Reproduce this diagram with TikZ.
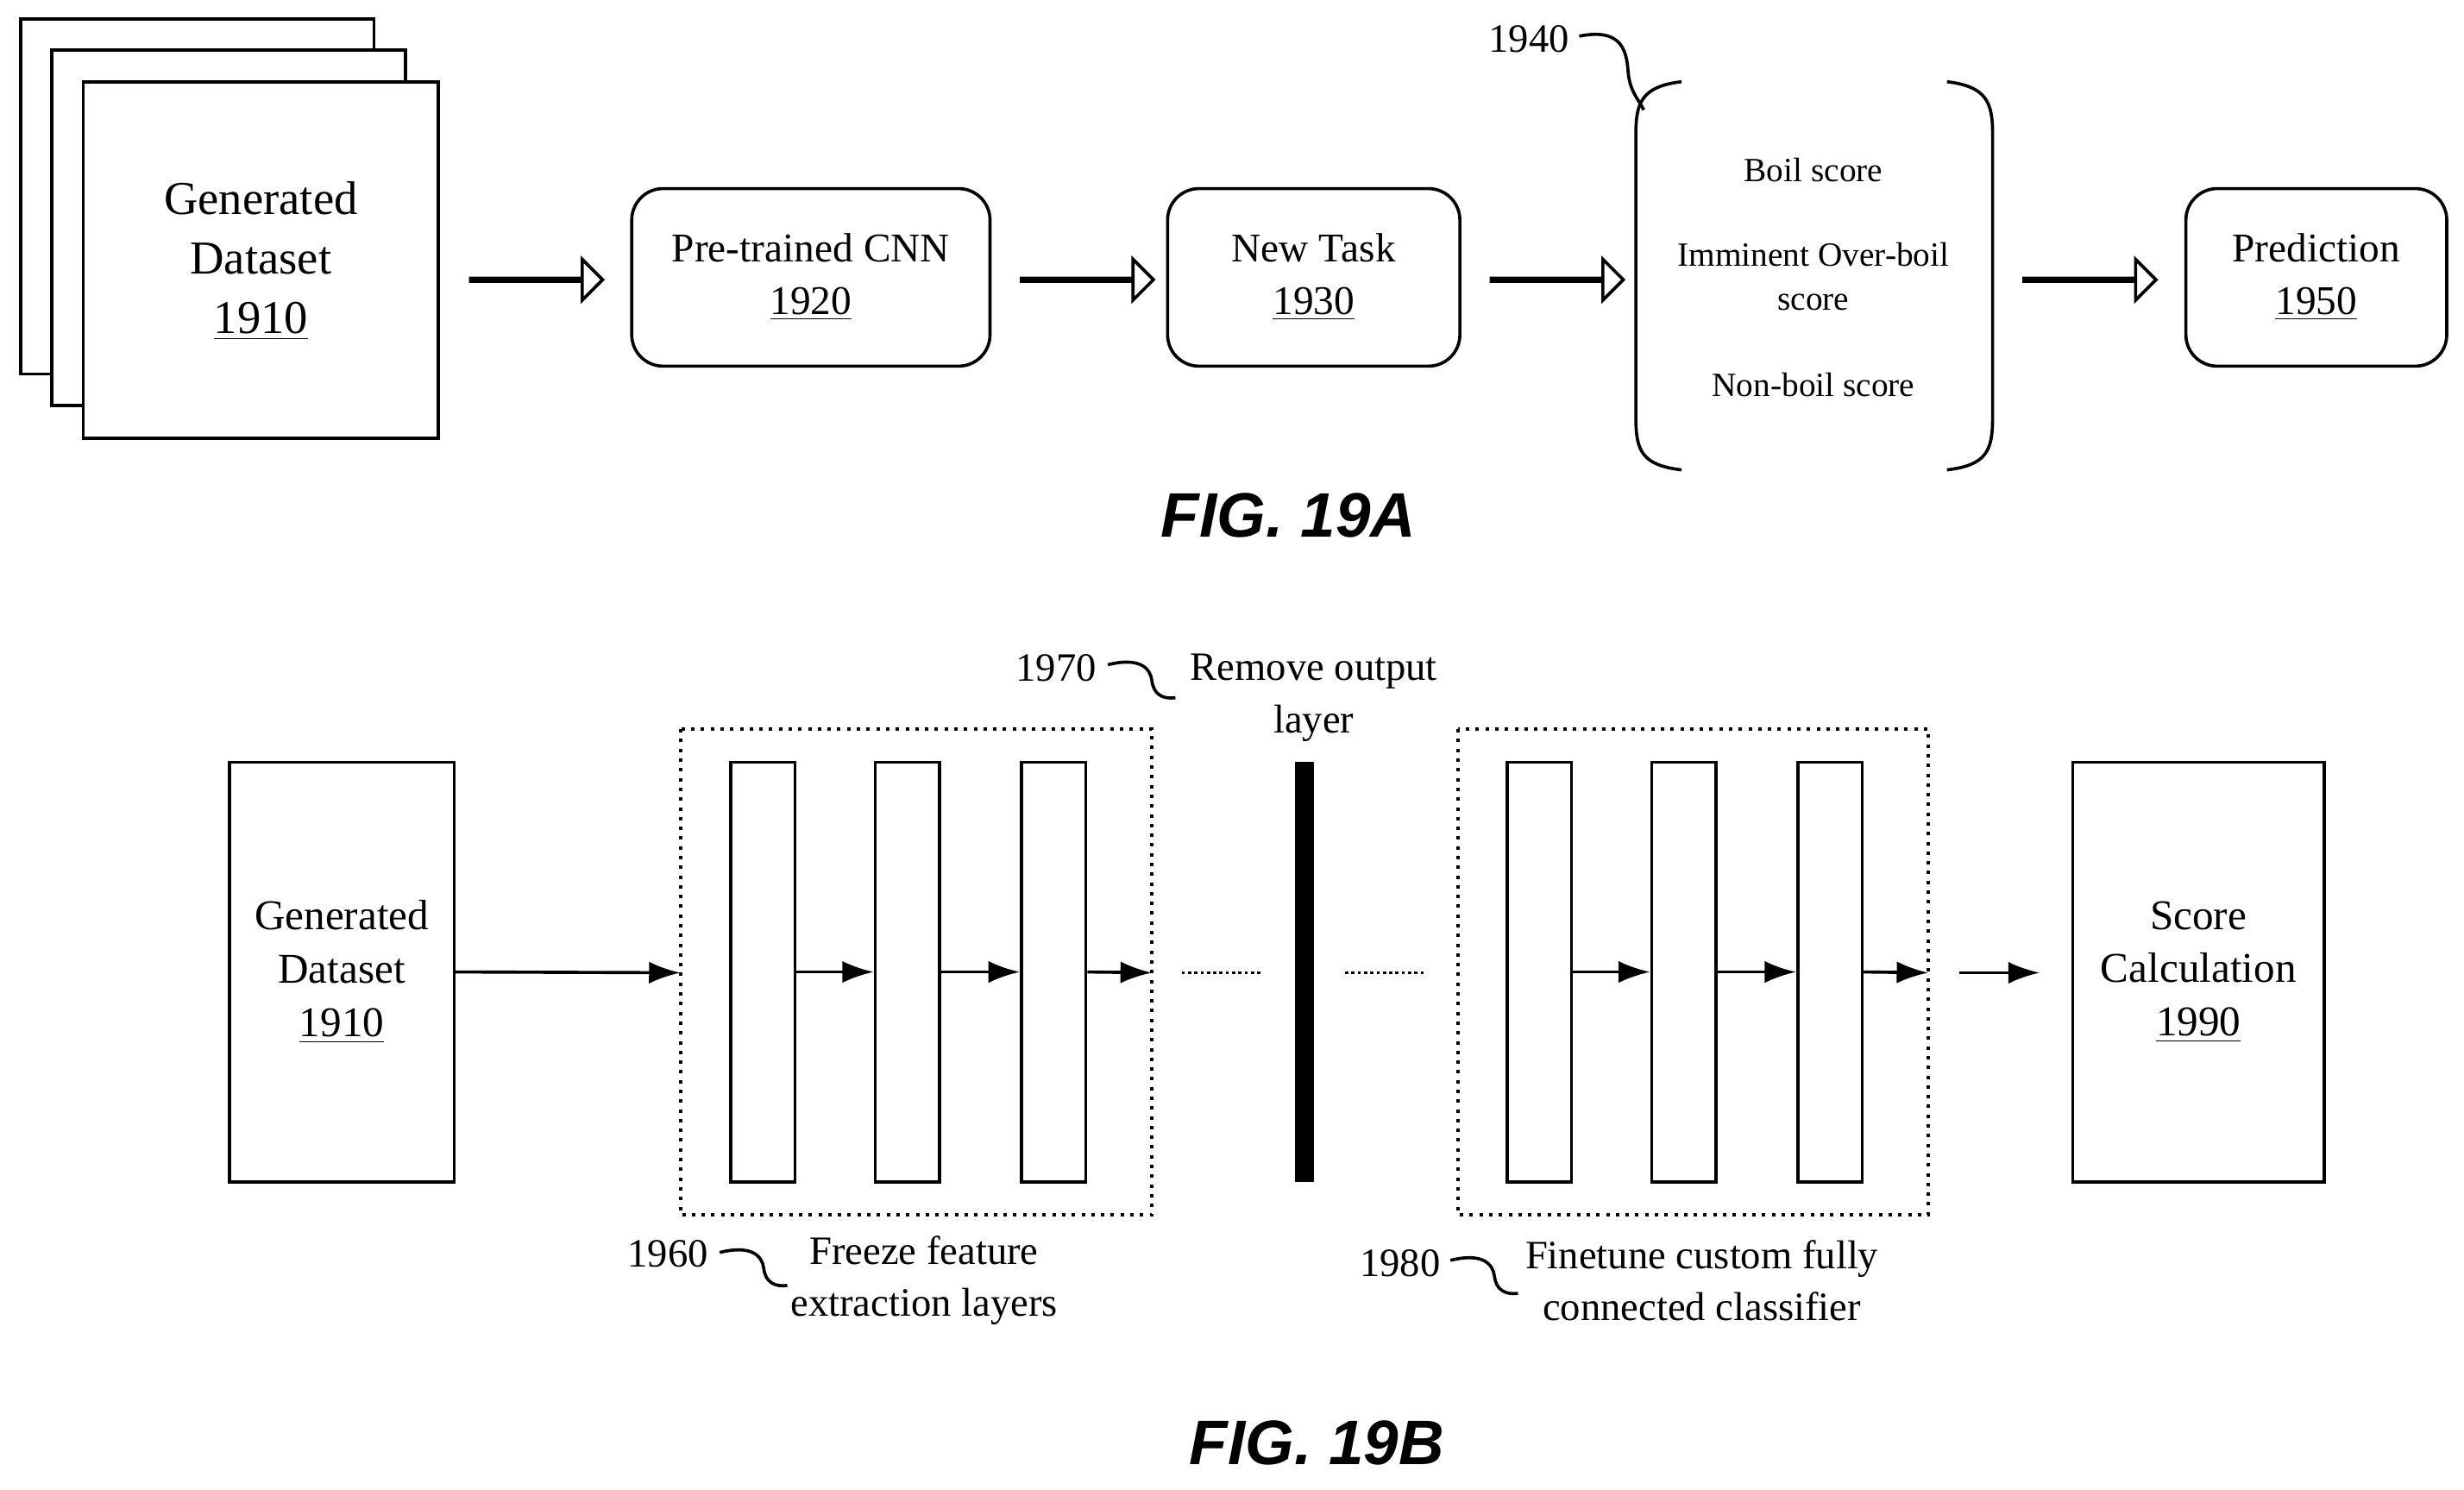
\documentclass[tikz,border=0pt]{standalone}
\usepackage{fontspec}
\setmainfont{Liberation Serif}
\newfontfamily\figfont{Liberation Sans}
\usetikzlibrary{arrows.meta,shapes.arrows}
\begin{document}
\begin{tikzpicture}[x=0.5pt,y=-0.5pt,line width=1pt,
  rbox/.style={draw,rounded corners=10pt,align=center,font=\fontsize{13}{16.5}\selectfont},
  blk/.style={draw,single arrow,single arrow head extend=6pt,minimum height=42pt,minimum width=13pt,inner sep=0pt,single arrow tip angle=90,shape border rotate=0},
  arr/.style={-{Latex[length=10pt,width=7pt]}},
  lbl/.style={font=\fontsize{12.8}{16.5}\selectfont,align=center},
  fig/.style={font=\figfont\bfseries\itshape\fontsize{20}{24}\selectfont}]
\useasboundingbox (0,0) rectangle (1568,948);
% FIG 19A
\draw[fill=white] (13,12) rectangle (238,238);
\draw[fill=white] (33,32) rectangle (258,258);
\draw[fill=white] (53,52) rectangle (279,279);
\node[align=center,font=\fontsize{15}{19}\selectfont] (gd) at (166,166) {Generated\\Dataset\\\underline{1910}};
\node[rbox,minimum width=114pt,minimum height=56.5pt] (cnn) at (516,176.5) {Pre-trained CNN\\\underline{1920}};
\node[rbox,minimum width=93pt,minimum height=56.5pt] (nt) at (836,176.5) {New Task\\\underline{1930}};
\node[rbox,minimum width=83pt,minimum height=56.5pt] (pr) at (1474,176.5) {Prediction\\\underline{1950}};
\node[blk] (a1) at (341,178) {};
\node[blk] (a2) at (691.5,178) {};
\node[blk] (a3) at (990.5,178) {};
\node[blk] (a4) at (1329.5,178) {};
\draw (1070,52) .. controls (1045,55) and (1041,65) .. (1041,85) -- (1041,266) .. controls (1041,287) and (1045,296) .. (1070,299);
\draw (1239,52) .. controls (1264,55) and (1268,65) .. (1268,85) -- (1268,266) .. controls (1268,287) and (1264,296) .. (1239,299);
\node[font=\fontsize{10.8}{14}\selectfont] (b1) at (1154,108) {Boil score};
\node[font=\fontsize{10.8}{14}\selectfont,align=center] (b2) at (1154,176) {Imminent Over-boil\\score};
\node[font=\fontsize{10.8}{14}\selectfont] (b3) at (1154,245) {Non-boil score};
\node[lbl] (n1940) at (973,25) {1940};
\draw (1005,23) .. controls (1030,18) and (1035,30) .. (1036,45) .. controls (1037,58) and (1042,62) .. (1046,70);
\node[fig] (f19a) at (820,328) {FIG. 19A};
% FIG 19B
\node[draw,minimum width=71.5pt,minimum height=133.5pt,align=center,font=\fontsize{13.5}{17}\selectfont] (gd2) at (217.5,618.5) {Generated\\Dataset\\\underline{1910}};
\node[draw,minimum width=80pt,minimum height=133.5pt,align=center,font=\fontsize{13.5}{17}\selectfont] (sc2) at (1399,618.5) {Score\\Calculation\\\underline{1990}};
\draw[dotted,line width=1.1pt] (433,464) rectangle (733,773);
\draw[dotted,line width=1.1pt] (928,464) rectangle (1227,773);
\foreach \n/\x in {l1/465,l2/557,l3/650,r1/959,r2/1051,r3/1144}{
  \node[draw,minimum width=20.5pt,minimum height=133.5pt,inner sep=0pt] (\n) at (\x+20.5,618.5) {};}
\node[fill=black,minimum width=6pt,minimum height=133.5pt,inner sep=0pt] (out) at (830,618.5) {};
\coordinate (e1) at (433,619); \coordinate (e2) at (733,619);
\coordinate (e4) at (1227,619);
\draw[arr] (gd2.east) -- (e1);
\draw[arr] (l1.east) -- (l2.west);
\draw[arr] (l2.east) -- (l3.west);
\draw[arr] (l3.east) -- (e2);
\draw[arr] (r1.east) -- (r2.west);
\draw[arr] (r2.east) -- (r3.west);
\draw[arr] (r3.east) -- (e4);
\coordinate (d1) at (1247,619); \coordinate (d2) at (1298,619);
\draw[arr] (d1) -- (d2);
\draw[densely dotted] (752,619) -- (803,619);
\draw[densely dotted] (856,619) -- (906,619);
\node[lbl] (n1970) at (672,425) {1970};
\draw (705,423) .. controls (725,418) and (732,425) .. (733,433) .. controls (734,442) and (740,445) .. (748,444);
\node[lbl] (t1970) at (836,444) {Remove output\\layer};
\node[lbl] (n1960) at (425,798) {1960};
\draw (458,797) .. controls (478,792) and (485,799) .. (486,807) .. controls (487,816) and (493,819) .. (501,818);
\node[lbl] (t1960) at (588,815) {Freeze feature\\extraction layers};
\node[lbl] (n1980) at (891,804) {1980};
\draw (923,802) .. controls (943,797) and (950,804) .. (951,812) .. controls (952,821) and (958,824) .. (966,823);
\node[lbl] (t1980) at (1083,815) {Finetune custom fully\\connected classifier};
\node[fig] (f19b) at (838,918) {FIG. 19B};
\end{tikzpicture}
\end{document}
